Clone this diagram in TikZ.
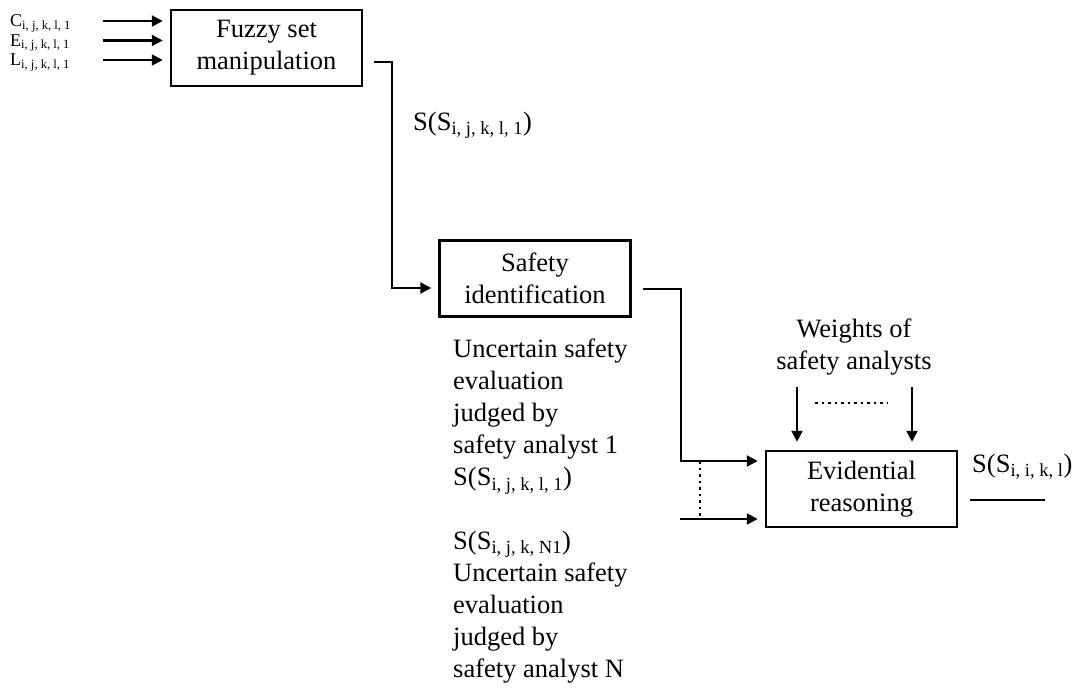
\documentclass[tikz,border=0pt]{standalone}
\usepackage{fontspec}
\setmainfont{Liberation Serif}
\usetikzlibrary{arrows.meta,positioning}
\newcommand{\bigtext}{\fontsize{26.5}{32}\selectfont}
\newcommand{\smalltext}{\fontsize{18}{19.5}\selectfont}
\newcommand{\ssub}[1]{S(S\textsubscript{#1})}

\begin{document}
\begin{tikzpicture}[x=1pt,y=-1pt,
    block/.style={draw, line width=2.5pt, minimum width=191pt, minimum height=76pt, align=center, font=\bigtext, inner sep=0pt},
    arr/.style={line width=2.2pt, -{Triangle[length=11pt,width=11pt]}, shorten >=7pt},
    wire/.style={line width=2.2pt},
    dots/.style={line width=2pt, dash pattern=on 2.5pt off 4pt},
    txt/.style={font=\bigtext, align=left, inner sep=0pt}]
  \useasboundingbox (0,0) rectangle (1075,690);
  % blocks
  \node[block] (fuzzy) at (266.5,48) {Fuzzy set\\manipulation};
  \node[block] (safety) at (535,278.5) {Safety\\identification};
  \node[block] (evid) at (861.5,489) {Evidential\\reasoning};
  % inputs
  \foreach \a [count=\n] in {C,E,L} {
    \node[anchor=west, font=\smalltext, inner sep=0pt] (in\n) at (10,19.5*\n+4) {\a\textsubscript{i, j, k, l, 1}};
    \coordinate (s\n) at (103,19.5*\n+1.5);
    \draw[arr] (s\n) -- (fuzzy.west |- s\n);
  }
  % fuzzy -> safety
  \coordinate (f1) at ([xshift=11pt,yshift=-14pt]fuzzy.east);
  \coordinate (fbend) at (392,288);
  \draw[arr] (f1) -| (fbend) -- (safety.west |- fbend);
  \node[txt, anchor=base west] (flabel) at (413,130) {\ssub{i, j, k, l, 1}};
  % safety -> evidential
  \coordinate (s0) at ([xshift=11pt,yshift=-10.5pt]safety.east);
  \coordinate (sbend) at (681,461);
  \draw[arr] (s0) -| (sbend) -- (evid.west |- sbend);
  \coordinate (nbend) at (680,519);
  \draw[arr] (nbend) -- (evid.west |- nbend);
  \draw[dots] (700,461) -- (700,519);
  \node[txt, anchor=north west] (judge1) at (453,339) {Uncertain safety\\evaluation\\judged by\\safety analyst 1\\\ssub{i, j, k, l, 1}};
  \node[txt, anchor=north west] (judgeN) at (453,530.5) {\ssub{i, j, k, N1}\\Uncertain safety\\evaluation\\judged by\\safety analyst N};
  % weights
  \node[txt, align=center, anchor=north] (weights) at (854,319) {Weights of\\safety analysts};
  \foreach \x [count=\n] in {797,912} {
    \coordinate (w\n) at (\x,387);
    \draw[arr, shorten >=8pt] (w\n) -- (w\n |- evid.north);
  }
  \draw[dots] (815,403) -- (887,403);
  % output
  \node[txt, anchor=base west] (olabel) at (972,472) {\ssub{i, i, k, l}};
  \coordinate (oend) at (1045,500);
  \draw[wire] ([xshift=12pt]evid.east |- oend) -- (oend);
\end{tikzpicture}
\end{document}
